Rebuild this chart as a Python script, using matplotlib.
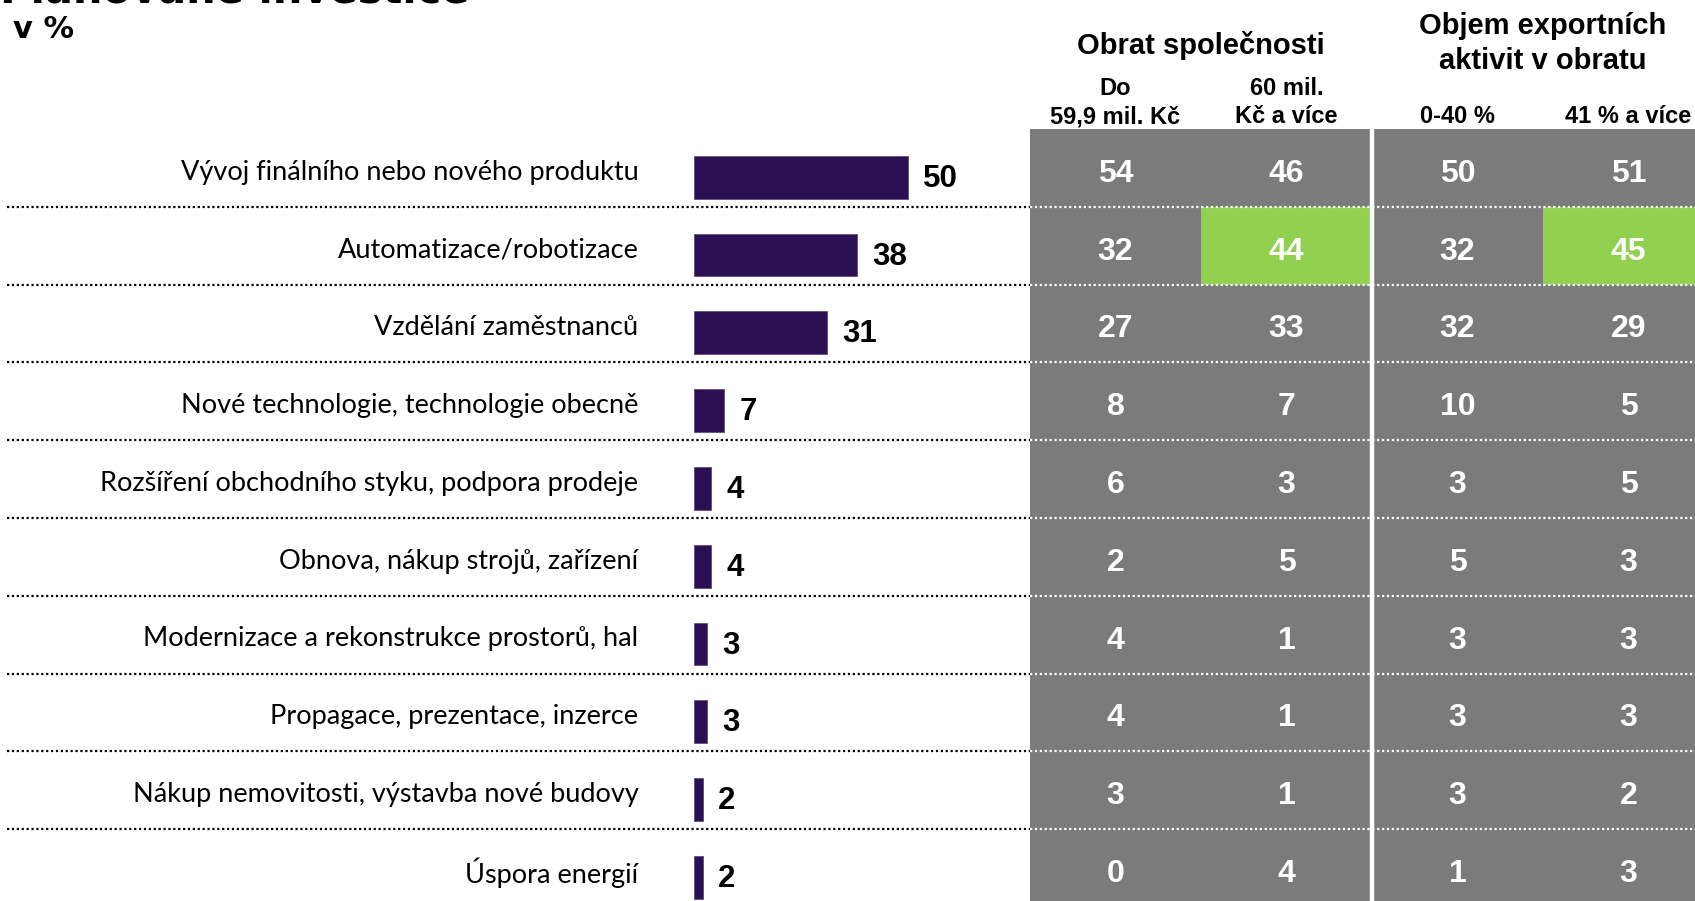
import numpy as np
import matplotlib
matplotlib.use('Agg')
import matplotlib.pyplot as plt

# data
labels = ['Vývoj finálního nebo nového produktu', 'Automatizace/robotizace',
          'Vzdělání zaměstnanců', 'Nové technologie, technologie obecně',
          'Rozšíření obchodního styku, podpora prodeje', 'Obnova, nákup strojů, zařízení',
          'Modernizace a rekonstrukce prostorů, hal', 'Propagace, prezentace, inzerce',
          'Nákup nemovitosti, výstavba nové budovy', 'Úspora energií']
total = [50, 38, 31, 7, 4, 4, 3, 3, 2, 2]
obrat_do = [54, 32, 27, 8, 6, 2, 4, 4, 3, 0]
obrat_nad = [46, 44, 33, 7, 3, 5, 1, 1, 1, 4]
export_do = [50, 32, 32, 10, 3, 5, 3, 3, 3, 1]
export_nad = [51, 45, 29, 5, 5, 3, 3, 3, 2, 3]
table_cols = [obrat_do, obrat_nad, export_do, export_nad]
# which cells are highlighted (green)
highlight = [[False] * 10,
             [False, True] + [False] * 8,
             [False] * 10,
             [False, True] + [False] * 8]
group_titles = ['Obrat společnosti', 'Objem exportních\naktivit v obratu']
col_titles = ['Do\n59,9 mil. Kč', '60 mil.\nKč a více', '0-40 %', '41 % a více']

purple = '#2b1153'
gray = '#7b7b7b'
green = '#92d050'
bold = ['Liberation Sans', 'DejaVu Sans']

W, H = 1695, 901
fig = plt.figure(figsize=(W / 100, H / 100), dpi=100)

# rows: top of first row at 129 px, 77.8 px per row
row_h = 77.8
top = 129
n = len(labels)
y0 = 1 - (top + n * row_h) / H
hh = n * row_h / H

# bar part: axes from x=7 to the table, bar zero at 694 px
px_unit = 4.28
xl, xz, xr = 7, 694, 1030
ax = fig.add_axes([xl / W, y0, (xr - xl) / W, hh])
ax.set_xlim(-(xz - xl) / px_unit, (xr - xz) / px_unit)
ax.set_ylim(n - 0.5, -0.5)
ax.axis('off')

rows = np.arange(n)
ax.barh(rows + 0.12, total, height=0.55, color=purple, edgecolor='#5d4d80', linewidth=0.6)
for i in range(n):
    ax.annotate(labels[i], xy=(0, i), xytext=(-40, -3), textcoords='offset points',
                ha='right', va='center', fontsize=19.5, family=['Lato', 'DejaVu Sans'])
    ax.annotate(str(total[i]), xy=(total[i], i + 0.14), xytext=(11, 0), textcoords='offset points',
                ha='left', va='center', fontsize=22.5, fontweight='bold', family=bold)
ax.hlines(rows[:-1] + 0.5, ax.get_xlim()[0], ax.get_xlim()[1], colors='black',
          linestyles=(0, (1, 1.2)), linewidth=1.6)

# table part: 4 columns of 171 px
col_w = 171
tab = fig.add_axes([xr / W, y0, 4 * col_w / W, hh])
tab.set_xlim(0, 4)
tab.set_ylim(n - 0.5, -0.5)
tab.axis('off')
for j, col in enumerate(table_cols):
    colors = [green if h else gray for h in highlight[j]]
    tab.barh(rows, 1, left=j, height=1, color=colors, linewidth=0)
    for i in range(n):
        tab.text(j + 0.5, i + 0.075, str(col[i]), ha='center', va='center', color='white',
                 fontsize=23, fontweight='bold', family=bold)
tab.hlines(rows[:-1] + 0.5, 0, 4, colors='white', linestyles=(0, (1, 1.2)), linewidth=1.6)
tab.axvline(2, color='white', linewidth=3.2)

# column headers
for j, t in enumerate(col_titles):
    tab.annotate(t, xy=(j + 0.5, -0.5), xytext=(0, 0.5), textcoords='offset points',
                 ha='center', va='bottom', fontsize=17, fontweight='bold', family=bold,
                 linespacing=1.3, annotation_clip=False)
tab.annotate(group_titles[0], xy=(1, -0.5), xytext=(0, 60), textcoords='offset points',
             ha='center', va='center', fontsize=21, fontweight='bold', family=bold,
             annotation_clip=False)
tab.annotate(group_titles[1], xy=(3, -0.5), xytext=(0, 61.5), textcoords='offset points',
             ha='center', va='center', fontsize=21, fontweight='bold', family=bold,
             linespacing=1.32, annotation_clip=False)

# title (top part is cut off in the original)
fig.text(0.0, 1 - 4 / H, 'Plánované investice', ha='left', va='baseline',
         fontsize=30, fontweight='bold', family='DejaVu Sans')
fig.text(13 / W, 1 - 38 / H, 'v %', ha='left', va='baseline',
         fontsize=22, fontweight='bold', family='DejaVu Sans')

fig.savefig('out.png', dpi=100)
